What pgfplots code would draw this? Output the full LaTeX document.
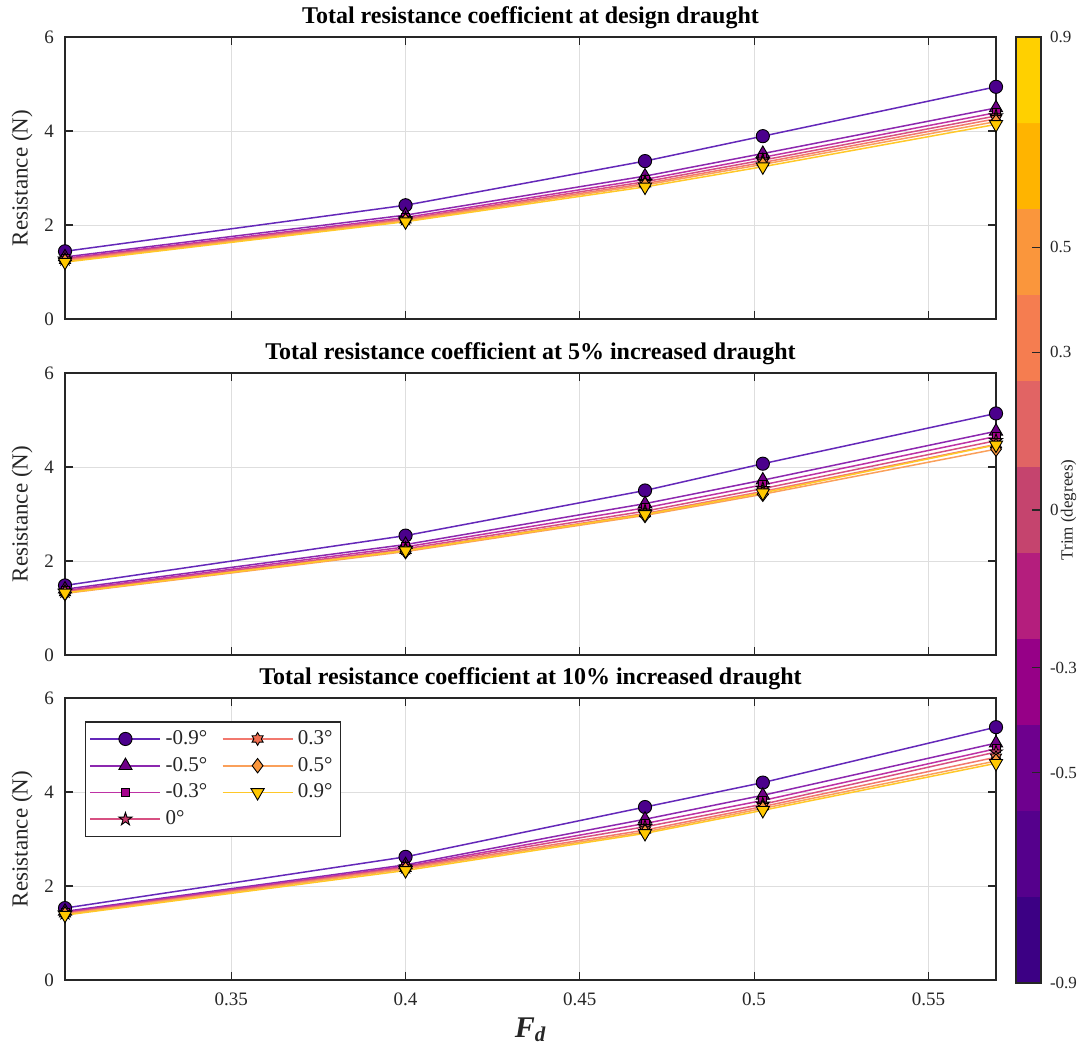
\documentclass[border=0pt]{standalone}
\usepackage{pgfplots}
\pgfplotsset{compat=1.18}
\usepackage{fontspec}
\setmainfont{Liberation Serif}
\usetikzlibrary{plotmarks}

\definecolor{axgray}{RGB}{38,38,38}
\definecolor{gridgray}{RGB}{222,222,222}
% series fill colours
\definecolor{fA}{RGB}{75,0,140}
\definecolor{fB}{RGB}{112,0,135}
\definecolor{fC}{RGB}{165,0,140}
\definecolor{fD}{RGB}{200,60,110}
\definecolor{fE}{RGB}{240,110,80}
\definecolor{fF}{RGB}{250,150,60}
\definecolor{fG}{RGB}{255,200,0}
% series line colours
\definecolor{lA}{RGB}{100,40,185}
\definecolor{lB}{RGB}{140,40,175}
\definecolor{lC}{RGB}{190,50,165}
\definecolor{lD}{RGB}{215,80,130}
\definecolor{lE}{RGB}{242,120,110}
\definecolor{lF}{RGB}{250,160,90}
\definecolor{lG}{RGB}{255,200,40}
% colorbar segments
\definecolor{c1}{RGB}{60,0,132}
\definecolor{c2}{RGB}{85,0,140}
\definecolor{c3}{RGB}{110,0,142}
\definecolor{c4}{RGB}{150,0,135}
\definecolor{c5}{RGB}{180,30,125}
\definecolor{c6}{RGB}{197,68,110}
\definecolor{c7}{RGB}{225,100,100}
\definecolor{c8}{RGB}{245,125,80}
\definecolor{c9}{RGB}{250,150,60}
\definecolor{c10}{RGB}{255,180,0}
\definecolor{c11}{RGB}{255,208,0}

\pgfdeclareplotmark{pentagram}{%
  \pgfpathmoveto{\pgfpointpolar{90}{\pgfplotmarksize}}%
  \pgfpathlineto{\pgfpointpolar{126}{0.382\pgfplotmarksize}}%
  \pgfpathlineto{\pgfpointpolar{162}{\pgfplotmarksize}}%
  \pgfpathlineto{\pgfpointpolar{198}{0.382\pgfplotmarksize}}%
  \pgfpathlineto{\pgfpointpolar{234}{\pgfplotmarksize}}%
  \pgfpathlineto{\pgfpointpolar{270}{0.382\pgfplotmarksize}}%
  \pgfpathlineto{\pgfpointpolar{306}{\pgfplotmarksize}}%
  \pgfpathlineto{\pgfpointpolar{342}{0.382\pgfplotmarksize}}%
  \pgfpathlineto{\pgfpointpolar{18}{\pgfplotmarksize}}%
  \pgfpathlineto{\pgfpointpolar{54}{0.382\pgfplotmarksize}}%
  \pgfpathclose
  \pgfusepathqfillstroke
}
\pgfdeclareplotmark{hexagram}{%
  \pgfpathmoveto{\pgfpointpolar{90}{\pgfplotmarksize}}%
  \pgfpathlineto{\pgfpointpolar{120}{0.577\pgfplotmarksize}}%
  \pgfpathlineto{\pgfpointpolar{150}{\pgfplotmarksize}}%
  \pgfpathlineto{\pgfpointpolar{180}{0.577\pgfplotmarksize}}%
  \pgfpathlineto{\pgfpointpolar{210}{\pgfplotmarksize}}%
  \pgfpathlineto{\pgfpointpolar{240}{0.577\pgfplotmarksize}}%
  \pgfpathlineto{\pgfpointpolar{270}{\pgfplotmarksize}}%
  \pgfpathlineto{\pgfpointpolar{300}{0.577\pgfplotmarksize}}%
  \pgfpathlineto{\pgfpointpolar{330}{\pgfplotmarksize}}%
  \pgfpathlineto{\pgfpointpolar{0}{0.577\pgfplotmarksize}}%
  \pgfpathlineto{\pgfpointpolar{30}{\pgfplotmarksize}}%
  \pgfpathlineto{\pgfpointpolar{60}{0.577\pgfplotmarksize}}%
  \pgfpathclose
  \pgfusepathqfillstroke
}

\pgfplotsset{
  sA/.style={color=lA, line width=0.75pt, mark=*, mark size=3.3pt, mark options={fill=fA, draw=black, line width=0.45pt, solid}},
  sB/.style={color=lB, line width=0.75pt, mark=triangle*, mark size=3.8pt, mark options={fill=fB, draw=black, line width=0.45pt, solid}},
  sC/.style={color=lC, line width=0.75pt, mark=square*, mark size=2pt, mark options={fill=fC, draw=black, line width=0.45pt, solid}},
  sD/.style={color=lD, line width=0.75pt, mark=pentagram, mark size=3.4pt, mark options={fill=fD, draw=black, line width=0.45pt, solid}},
  sE/.style={color=lE, line width=0.75pt, mark=hexagram, mark size=3.2pt, mark options={fill=fE, draw=black, line width=0.45pt, solid}},
  sF/.style={color=lF, line width=0.75pt, mark=diamond*, mark size=3.6pt, mark options={fill=fF, draw=black, line width=0.45pt, solid}},
  sG/.style={color=lG, line width=0.75pt, mark=triangle*, mark size=3.8pt, mark options={fill=fG, draw=black, line width=0.45pt, solid, rotate=180}},
  panel/.style={
    scale only axis, width=465.5pt, height=141pt, anchor=south west,
    xmin=0.3023, xmax=0.5694, ymin=0, ymax=6,
    xtick={0.35,0.4,0.45,0.5,0.55}, ytick={0,2,4,6},
    grid=major, major grid style={draw=gridgray, line width=0.4pt},
    axis line style={draw=axgray, line width=0.6pt},
    tick style={draw=axgray, line width=0.6pt}, major tick length=4pt,
    /pgf/number format/assume math mode=true,
    tick label style={font=\fontsize{9.5}{11}\selectfont, text=axgray},
    xticklabel style={yshift=-3pt},
    yticklabel style={xshift=-2pt},
    every axis title shift=0pt,
    title style={font=\bfseries\fontsize{12}{14}\selectfont, yshift=0.5pt},
    ylabel={Resistance (N)},
    ylabel style={font=\fontsize{11.5}{13}\selectfont, text=axgray, at={(axis description cs:-0.046,0.5)}, anchor=center},
    legend image code/.code={
      \draw[##1, line width=0.85pt] (0cm,0cm) -- (1.23cm,0cm);
      \draw[##1] plot coordinates {(0.615cm,0cm)};
    },
  },
}

\begin{document}
\begin{tikzpicture}
\useasboundingbox (0,0) rectangle (540.5pt,526pt);

% ---------- top panel ----------
\begin{axis}[panel, at={(32.5pt,366.5pt)}, xticklabels={},
  title={Total resistance coefficient at design draught}]
\addplot[sA] coordinates {(0.3023,1.44) (0.4,2.42) (0.4687,3.36) (0.5025,3.89) (0.5694,4.94)};
\addplot[sB] coordinates {(0.3023,1.32) (0.4,2.21) (0.4687,3.04) (0.5025,3.52) (0.5694,4.49)};
\addplot[sC] coordinates {(0.3023,1.29) (0.4,2.16) (0.4687,2.97) (0.5025,3.44) (0.5694,4.39)};
\addplot[sD] coordinates {(0.3023,1.27) (0.4,2.13) (0.4687,2.92) (0.5025,3.38) (0.5694,4.32)};
\addplot[sE] coordinates {(0.3023,1.25) (0.4,2.11) (0.4687,2.88) (0.5025,3.33) (0.5694,4.26)};
\addplot[sF] coordinates {(0.3023,1.23) (0.4,2.09) (0.4687,2.85) (0.5025,3.29) (0.5694,4.20)};
\addplot[sG] coordinates {(0.3023,1.21) (0.4,2.07) (0.4687,2.81) (0.5025,3.24) (0.5694,4.14)};
\end{axis}

% ---------- middle panel ----------
\begin{axis}[panel, at={(32.5pt,198.5pt)}, xticklabels={},
  title={Total resistance coefficient at 5\% increased draught}]
\addplot[sA] coordinates {(0.3023,1.48) (0.4,2.54) (0.4687,3.50) (0.5025,4.07) (0.5694,5.14)};
\addplot[sB] coordinates {(0.3023,1.40) (0.4,2.35) (0.4687,3.22) (0.5025,3.72) (0.5694,4.76)};
\addplot[sC] coordinates {(0.3023,1.37) (0.4,2.30) (0.4687,3.13) (0.5025,3.62) (0.5694,4.65)};
\addplot[sD] coordinates {(0.3023,1.35) (0.4,2.26) (0.4687,3.06) (0.5025,3.54) (0.5694,4.56)};
\addplot[sE] coordinates {(0.3023,1.33) (0.4,2.23) (0.4687,3.01) (0.5025,3.48) (0.5694,4.48)};
\addplot[sF] coordinates {(0.3023,1.31) (0.4,2.20) (0.4687,2.97) (0.5025,3.42) (0.5694,4.38)};
\addplot[sG] coordinates {(0.3023,1.32) (0.4,2.22) (0.4687,2.99) (0.5025,3.45) (0.5694,4.47)};
\end{axis}

% ---------- bottom panel ----------
\begin{axis}[panel, at={(32.5pt,36pt)},
  title={Total resistance coefficient at 10\% increased draught},
  xlabel={\bfseries\itshape F\textsubscript{d}},
  xlabel style={font=\fontsize{15}{17}\selectfont, text=axgray, at={(axis description cs:0.5,-0.177)}, anchor=center},
  legend columns=2,
  legend cell align=left,
  legend style={at={(0.0215,0.9168)}, anchor=north west, draw=axgray, line width=0.6pt,
    font=\fontsize{10.5}{12}\selectfont, text=axgray, inner sep=2pt, row sep=0.5pt,
    nodes={inner sep=2.2pt},
    /tikz/every odd column/.append style={column sep=0pt},
    /tikz/every even column/.append style={column sep=5pt}}]
\addplot[sA, forget plot] coordinates {(0.3023,1.53) (0.4,2.62) (0.4687,3.68) (0.5025,4.20) (0.5694,5.38)};
\addplot[sB, forget plot] coordinates {(0.3023,1.46) (0.4,2.45) (0.4687,3.42) (0.5025,3.93) (0.5694,5.04)};
\addplot[sC, forget plot] coordinates {(0.3023,1.44) (0.4,2.42) (0.4687,3.33) (0.5025,3.82) (0.5694,4.92)};
\addplot[sD, forget plot] coordinates {(0.3023,1.42) (0.4,2.40) (0.4687,3.26) (0.5025,3.74) (0.5694,4.85)};
\addplot[sE, forget plot] coordinates {(0.3023,1.41) (0.4,2.38) (0.4687,3.19) (0.5025,3.69) (0.5694,4.74)};
\addplot[sF, forget plot] coordinates {(0.3023,1.40) (0.4,2.36) (0.4687,3.15) (0.5025,3.65) (0.5694,4.66)};
\addplot[sG, forget plot] coordinates {(0.3023,1.38) (0.4,2.33) (0.4687,3.12) (0.5025,3.61) (0.5694,4.61)};
\addlegendimage{sA}\addlegendentry{-0.9°}
\addlegendimage{sE}\addlegendentry{0.3°}
\addlegendimage{sB}\addlegendentry{-0.5°}
\addlegendimage{sF}\addlegendentry{0.5°}
\addlegendimage{sC}\addlegendentry{-0.3°}
\addlegendimage{sG}\addlegendentry{0.9°}
\addlegendimage{sD}\addlegendentry{0°}
\end{axis}

% ---------- colour bar ----------
\begin{axis}[scale only axis, at={(508pt,34.5pt)}, anchor=south west,
  width=12.5pt, height=473pt, xmin=0, xmax=1, ymin=-0.9, ymax=0.9,
  xtick=\empty, ytick={-0.9,-0.5,-0.3,0,0.3,0.5,0.9},
  yticklabels={-0.9,-0.5,-0.3,0,0.3,0.5,0.9},
  ytick pos=right, yticklabel pos=right, tick align=inside,
  major tick length=4.5pt, tick style={draw=axgray, line width=0.6pt},
  axis line style={draw=axgray, line width=0.6pt}, axis on top,
  tick label style={font=\fontsize{8.5}{10}\selectfont, text=axgray},
  yticklabel style={xshift=1pt},
  ylabel={Trim (degrees)},
  ylabel style={font=\fontsize{8.5}{10}\selectfont, text=axgray, at={(axis description cs:2.1,0.5)}, anchor=center}]
\addplot[fill=c1, draw=none] coordinates {(0,-0.9) (1,-0.9) (1,-0.73636) (0,-0.73636) (0,-0.9)};
\addplot[fill=c2, draw=none] coordinates {(0,-0.73636) (1,-0.73636) (1,-0.57273) (0,-0.57273) (0,-0.73636)};
\addplot[fill=c3, draw=none] coordinates {(0,-0.57273) (1,-0.57273) (1,-0.40909) (0,-0.40909) (0,-0.57273)};
\addplot[fill=c4, draw=none] coordinates {(0,-0.40909) (1,-0.40909) (1,-0.24545) (0,-0.24545) (0,-0.40909)};
\addplot[fill=c5, draw=none] coordinates {(0,-0.24545) (1,-0.24545) (1,-0.08182) (0,-0.08182) (0,-0.24545)};
\addplot[fill=c6, draw=none] coordinates {(0,-0.08182) (1,-0.08182) (1,0.08182) (0,0.08182) (0,-0.08182)};
\addplot[fill=c7, draw=none] coordinates {(0,0.08182) (1,0.08182) (1,0.24545) (0,0.24545) (0,0.08182)};
\addplot[fill=c8, draw=none] coordinates {(0,0.24545) (1,0.24545) (1,0.40909) (0,0.40909) (0,0.24545)};
\addplot[fill=c9, draw=none] coordinates {(0,0.40909) (1,0.40909) (1,0.57273) (0,0.57273) (0,0.40909)};
\addplot[fill=c10, draw=none] coordinates {(0,0.57273) (1,0.57273) (1,0.73636) (0,0.73636) (0,0.57273)};
\addplot[fill=c11, draw=none] coordinates {(0,0.73636) (1,0.73636) (1,0.9) (0,0.9) (0,0.73636)};
\end{axis}
\end{tikzpicture}
\end{document}
